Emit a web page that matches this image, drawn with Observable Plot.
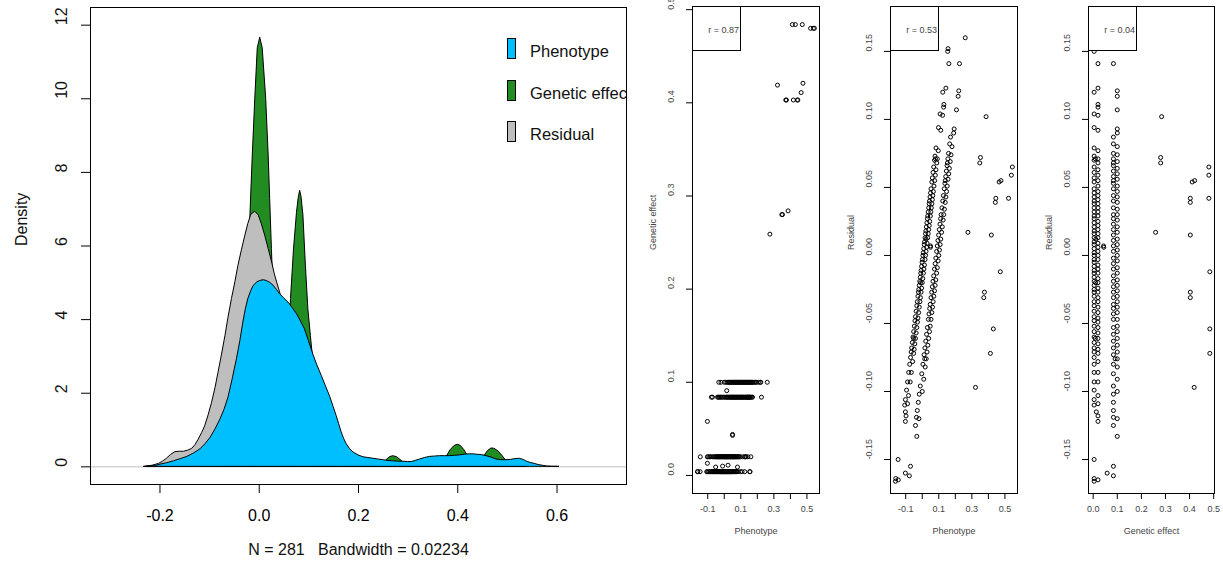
<!DOCTYPE html>
<html>
<head>
<meta charset="utf-8">
<script src="https://cdn.jsdelivr.net/npm/d3@7"></script>
<script src="https://cdn.jsdelivr.net/npm/@observablehq/plot@0.6"></script>
<style>
  body { margin: 0; background: #fff; }
  #wrap { position: relative; width: 1223px; height: 569px; overflow: hidden; background: #fff;
          font-family: "Liberation Sans", Arial, sans-serif; }
  #wrap svg { position: absolute; top: 0; }
  .legend { position: absolute; left: 500px; top: 30px; width: 126px; height: 125px; overflow: hidden;
            font-size: 16.5px; color: #111; z-index: 2; }
  .legend .sw { position: absolute; left: 7px; width: 9px; height: 21px; box-sizing: border-box; border: 1px solid #000; }
  .legend .lb { position: absolute; left: 30px; line-height: 16px; white-space: nowrap; }
  .rbox { position: absolute; top: 6px; width: 49px; height: 45px; box-sizing: border-box; border: 1px solid #000;
          background: #fff; font-size: 9px; color: #444; text-align: right; padding: 18px 1px 0 0; line-height: 11px; z-index: 2; }
</style>
</head>
<body>
<div id="wrap"></div>
<script>
// ---------- density curves (left panel) ----------
const phenotypeX = [-0.227,-0.21,-0.199,-0.185,-0.172,-0.158,-0.145,-0.132,-0.119,-0.108,-0.098,-0.088,-0.078,-0.07,-0.062,-0.054,-0.045,-0.038,-0.032,-0.027,-0.022,-0.016,-0.011,-0.004,0.002,0.009,0.015,0.022,0.029,0.036,0.042,0.05,0.059,0.067,0.076,0.084,0.092,0.1,0.109,0.117,0.126,0.134,0.143,0.15,0.156,0.161,0.166,0.171,0.176,0.183,0.19,0.2,0.21,0.22,0.23,0.24,0.25,0.26,0.27,0.28,0.29,0.3,0.307,0.315,0.324,0.334,0.344,0.354,0.364,0.374,0.384,0.394,0.404,0.414,0.424,0.432,0.438,0.448,0.458,0.468,0.478,0.488,0.498,0.508,0.516,0.525,0.532,0.538,0.546,0.555,0.563,0.571,0.58,0.59,0.605];
const phenotypeDensity = [0,0.02,0.06,0.1,0.15,0.21,0.27,0.36,0.47,0.62,0.79,1.02,1.29,1.55,1.88,2.35,2.92,3.42,3.92,4.28,4.56,4.78,4.92,5.01,5.05,5.07,5.05,5.0,4.92,4.8,4.69,4.58,4.46,4.32,4.15,3.95,3.74,3.42,3.05,2.76,2.47,2.2,1.9,1.62,1.38,1.16,0.94,0.76,0.62,0.48,0.39,0.31,0.26,0.24,0.22,0.2,0.18,0.16,0.15,0.14,0.14,0.13,0.13,0.16,0.2,0.24,0.27,0.28,0.29,0.29,0.29,0.30,0.31,0.33,0.34,0.34,0.33,0.32,0.29,0.25,0.2,0.18,0.18,0.19,0.21,0.22,0.19,0.15,0.11,0.08,0.05,0.03,0.01,0.003,0];

const residualX = [-0.232,-0.215,-0.202,-0.194,-0.186,-0.178,-0.169,-0.16,-0.152,-0.143,-0.135,-0.128,-0.122,-0.115,-0.109,-0.102,-0.095,-0.088,-0.082,-0.075,-0.068,-0.062,-0.055,-0.048,-0.042,-0.035,-0.028,-0.022,-0.016,-0.008,-0.001,0.005,0.012,0.019,0.026,0.031,0.036,0.042,0.05,0.06,0.07,0.08,0.09,0.1,0.11,0.12,0.13,0.14,0.15,0.16,0.17,0.18,0.19,0.2,0.215,0.235];
const residualDensity = [0,0.03,0.08,0.14,0.22,0.32,0.40,0.41,0.41,0.44,0.49,0.6,0.74,0.92,1.1,1.4,1.74,2.15,2.56,3.05,3.56,4.05,4.56,5.02,5.46,5.88,6.28,6.6,6.85,6.93,6.83,6.6,6.28,5.92,5.55,5.25,5.01,4.74,4.35,3.9,3.4,2.9,2.4,1.95,1.55,1.2,0.9,0.65,0.45,0.3,0.2,0.12,0.07,0.04,0.01,0];

const geneticX = [-0.07,-0.05,-0.035,-0.027,-0.021,-0.017,-0.013,-0.008,-0.003,0.002,0.007,0.014,0.019,0.022,0.0255,0.029,0.035,0.042,0.05,0.057,0.061,0.064,0.07,0.076,0.0795,0.0824,0.085,0.089,0.094,0.099,0.104,0.108,0.113,0.12,0.13,0.145,0.17,0.23,0.245,0.255,0.263,0.27,0.278,0.287,0.296,0.31,0.35,0.36,0.37,0.378,0.386,0.394,0.40,0.406,0.413,0.42,0.428,0.436,0.445,0.453,0.461,0.468,0.474,0.482,0.49,0.498,0.507,0.52,0.54];
const geneticDensity = [0,0.3,1.5,3.5,5.6,7.1,8.46,10.0,11.37,11.66,11.37,10.0,8.46,7.28,5.92,4.7,3.3,2.4,2.1,2.6,3.6,4.56,5.9,6.9,7.3,7.5,7.35,6.83,5.46,4.28,3.56,3.01,2.1,1.0,0.3,0.05,0,0,0.03,0.16,0.26,0.29,0.26,0.16,0.06,0.01,0,0.02,0.1,0.28,0.46,0.57,0.60,0.57,0.46,0.3,0.14,0.06,0.12,0.28,0.43,0.5,0.49,0.42,0.3,0.15,0.05,0.01,0];

const densityXTicks = [-0.2, 0, 0.2, 0.4, 0.6];
const densityXLabels = ["-0.2", "0.0", "0.2", "0.4", "0.6"];
const densityYTicks = [0, 2, 4, 6, 8, 10, 12];
const densityYLabels = ["0", "2", "4", "6", "8", "10", "12"];
const legendItems = ["Phenotype", "Genetic effect", "Residual"];
const legendColors = ["#00BFFF", "#228B22", "#BEBEBE"];
const subtitle = "N = 281\u00a0\u00a0\u00a0Bandwidth = 0.02234";

// ---------- individuals: [genetic effect, residual, phenotype] ----------
const rowZero = [[0.004,0.152,0.156],[0.004,0.150,0.154],[0.004,0.120,0.124],[0.004,0.104,0.108],[0.004,0.094,0.098],[0.004,0.079,0.083],[0.004,0.073,0.077],[0.004,0.070,0.074],[0.004,0.065,0.069],[0.004,0.061,0.065],[0.004,0.057,0.061],[0.004,0.054,0.058],[0.004,0.049,0.053],[0.004,0.046,0.050],[0.004,0.043,0.047],[0.004,0.040,0.044],[0.004,0.038,0.042],[0.004,0.035,0.039],[0.004,0.032,0.036],[0.004,0.029,0.033],[0.004,0.027,0.031],[0.004,0.024,0.028],[0.004,0.021,0.025],[0.004,0.018,0.022],[0.004,0.016,0.020],[0.004,0.013,0.017],[0.004,0.010,0.014],[0.004,0.008,0.012],[0.004,0.005,0.009],[0.004,0.002,0.006],[0.004,0.000,0.004],[0.004,-0.003,0.001],[0.004,-0.005,-0.001],[0.004,-0.008,-0.004],[0.004,-0.011,-0.007],[0.004,-0.013,-0.009],[0.004,-0.016,-0.012],[0.004,-0.019,-0.015],[0.004,-0.022,-0.018],[0.004,-0.025,-0.021],[0.004,-0.027,-0.023],[0.004,-0.030,-0.026],[0.004,-0.034,-0.030],[0.004,-0.037,-0.033],[0.004,-0.041,-0.037],[0.004,-0.045,-0.041],[0.004,-0.048,-0.044],[0.004,-0.052,-0.048],[0.004,-0.056,-0.052],[0.004,-0.060,-0.056],[0.004,-0.064,-0.060],[0.004,-0.068,-0.064],[0.004,-0.071,-0.067],[0.004,-0.075,-0.071],[0.004,-0.080,-0.076],[0.004,-0.086,-0.082],[0.004,-0.093,-0.089],[0.004,-0.099,-0.095],[0.004,-0.106,-0.102],[0.004,-0.110,-0.106],[0.004,-0.150,-0.146],[0.004,-0.164,-0.160],[0.004,-0.166,-0.162],[0.013,-0.115,-0.102],[0.009,-0.061,-0.052],[0.009,0.071,0.080],[0.010,-0.020,-0.010],[0.011,0.012,0.023]];
const rowTwo = [[0.020,0.141,0.161],[0.020,0.123,0.143],[0.020,0.111,0.131],[0.020,0.109,0.129],[0.020,0.103,0.123],[0.020,0.092,0.112],[0.020,0.077,0.097],[0.020,0.071,0.091],[0.020,0.068,0.088],[0.020,0.063,0.083],[0.020,0.059,0.079],[0.020,0.055,0.075],[0.020,0.051,0.071],[0.020,0.047,0.067],[0.020,0.044,0.064],[0.020,0.041,0.061],[0.020,0.038,0.058],[0.020,0.035,0.055],[0.020,0.032,0.052],[0.020,0.029,0.049],[0.020,0.025,0.045],[0.020,0.022,0.042],[0.020,0.019,0.039],[0.020,0.016,0.036],[0.020,0.013,0.033],[0.020,0.009,0.029],[0.020,0.006,0.026],[0.020,0.003,0.023],[0.020,0.000,0.020],[0.020,-0.003,0.017],[0.020,-0.007,0.013],[0.020,-0.010,0.010],[0.020,-0.013,0.007],[0.020,-0.017,0.003],[0.020,-0.020,0.000],[0.020,-0.024,-0.004],[0.020,-0.027,-0.007],[0.020,-0.031,-0.011],[0.020,-0.034,-0.014],[0.020,-0.038,-0.018],[0.020,-0.042,-0.022],[0.020,-0.046,-0.026],[0.020,-0.049,-0.029],[0.020,-0.053,-0.033],[0.020,-0.057,-0.037],[0.020,-0.061,-0.041],[0.020,-0.065,-0.045],[0.020,-0.069,-0.049],[0.020,-0.072,-0.052],[0.020,-0.078,-0.058],[0.020,-0.086,-0.066],[0.020,-0.093,-0.073],[0.020,-0.103,-0.083],[0.020,-0.109,-0.089],[0.020,-0.118,-0.098],[0.020,-0.122,-0.102],[0.020,-0.165,-0.145]];
const rowEight = [[0.084,0.141,0.225],[0.084,0.087,0.171],[0.084,0.082,0.166],[0.084,0.075,0.159],[0.084,0.071,0.155],[0.084,0.068,0.152],[0.084,0.066,0.150],[0.084,0.062,0.146],[0.084,0.058,0.142],[0.084,0.055,0.139],[0.084,0.053,0.137],[0.084,0.049,0.133],[0.084,0.044,0.128],[0.084,0.040,0.124],[0.084,0.035,0.119],[0.084,0.030,0.114],[0.084,0.027,0.111],[0.084,0.023,0.107],[0.084,0.019,0.103],[0.084,0.015,0.099],[0.084,0.011,0.095],[0.084,0.007,0.091],[0.084,0.003,0.087],[0.084,-0.002,0.082],[0.084,-0.006,0.078],[0.084,-0.010,0.074],[0.084,-0.015,0.069],[0.084,-0.019,0.065],[0.084,-0.023,0.061],[0.084,-0.027,0.057],[0.084,-0.031,0.053],[0.084,-0.036,0.048],[0.084,-0.039,0.045],[0.084,-0.043,0.041],[0.084,-0.047,0.037],[0.084,-0.053,0.031],[0.084,-0.058,0.026],[0.084,-0.063,0.021],[0.084,-0.068,0.016],[0.084,-0.073,0.011],[0.084,-0.080,0.004],[0.084,-0.087,-0.003],[0.084,-0.096,-0.012],[0.084,-0.102,-0.018],[0.084,-0.108,-0.024],[0.084,-0.114,-0.030],[0.084,-0.119,-0.035],[0.084,-0.125,-0.041],[0.084,-0.155,-0.071],[0.084,-0.162,-0.078]];
const rowTen = [[0.100,0.160,0.260],[0.100,0.121,0.221],[0.100,0.117,0.217],[0.100,0.107,0.207],[0.100,0.093,0.193],[0.100,0.090,0.190],[0.100,0.080,0.180],[0.100,0.074,0.174],[0.100,0.069,0.169],[0.100,0.064,0.164],[0.100,0.060,0.160],[0.100,0.056,0.156],[0.100,0.051,0.151],[0.100,0.047,0.147],[0.100,0.043,0.143],[0.100,0.039,0.139],[0.100,0.034,0.134],[0.100,0.030,0.130],[0.100,0.026,0.126],[0.100,0.021,0.121],[0.100,0.017,0.117],[0.100,0.012,0.112],[0.100,0.008,0.108],[0.100,0.004,0.104],[0.100,0.000,0.100],[0.100,-0.004,0.096],[0.100,-0.009,0.091],[0.100,-0.013,0.087],[0.100,-0.018,0.082],[0.100,-0.022,0.078],[0.100,-0.026,0.074],[0.100,-0.030,0.070],[0.100,-0.034,0.066],[0.100,-0.038,0.062],[0.100,-0.042,0.058],[0.100,-0.047,0.053],[0.100,-0.052,0.048],[0.100,-0.056,0.044],[0.100,-0.061,0.039],[0.100,-0.066,0.034],[0.100,-0.071,0.029],[0.100,-0.076,0.024],[0.100,-0.082,0.018],[0.100,-0.091,0.009],[0.100,-0.100,0.000],[0.100,-0.120,-0.020],[0.100,-0.133,-0.033]];
const scattered = [[0.259,0.017,0.276],[0.284,0.102,0.386],[0.280,0.072,0.352],[0.280,0.068,0.348],[0.403,0.042,0.445],[0.403,0.039,0.442],[0.403,0.015,0.418],[0.403,-0.027,0.376],[0.403,-0.031,0.372],[0.411,0.054,0.465],[0.421,0.055,0.476],[0.419,-0.097,0.322],[0.480,0.065,0.545],[0.480,0.059,0.539],[0.480,0.042,0.522],[0.484,-0.012,0.472],[0.484,-0.054,0.430],[0.484,-0.072,0.412],[0.058,-0.160,-0.102],[0.043,0.007,0.050],[0.044,0.006,0.050],[0.091,-0.076,0.015]];

const phenotypeTicks = [-0.1, 0, 0.1, 0.2, 0.3, 0.4, 0.5];
const phenotypeTickLabels = ["-0.1", "", "0.1", "", "0.3", "", "0.5"];
const geneticTicks = [0, 0.1, 0.2, 0.3, 0.4, 0.5];
const geneticTickLabels = ["0.0", "0.1", "0.2", "0.3", "0.4", "0.5"];
const residualTicks = [-0.15, -0.10, -0.05, 0, 0.05, 0.10, 0.15];
const residualTickLabels = ["-0.15", "-0.10", "-0.05", "0.00", "0.05", "0.10", "0.15"];
const correlations = ["r = 0.87", "r = 0.53", "r = 0.04"];

const FONT = '"Liberation Sans", Arial, sans-serif';
const wrap = document.getElementById("wrap");
const individuals = [...rowZero, ...rowTwo, ...rowEight, ...rowTen, ...scattered];

// ---------- left panel ----------
const curve = (xs, ys) => xs.map((x, i) => ({x, y: ys[i]}));
const dens = Plot.plot({
  width: 640, height: 569,
  marginLeft: 90, marginRight: 14, marginTop: 7, marginBottom: 85,
  x: {domain: [-0.34, 0.74], ticks: densityXTicks, tickSize: 9, tickPadding: 16, tickFormat: (d) => densityXLabels[densityXTicks.indexOf(d)], label: null},
  y: {domain: [-0.48, 12.48], ticks: densityYTicks, tickSize: 9, tickFormat: () => "", label: null},
  style: {fontFamily: FONT, fontSize: "16px", color: "#000", background: "transparent", overflow: "visible"},
  marks: [
    Plot.ruleY([0], {stroke: "#bebebe"}),
    Plot.areaY(curve(geneticX, geneticDensity), {x: "x", y: "y", fill: legendColors[1], stroke: "black", strokeWidth: 1}),
    Plot.areaY(curve(residualX, residualDensity), {x: "x", y: "y", fill: legendColors[2], stroke: "black", strokeWidth: 1}),
    Plot.areaY(curve(phenotypeX, phenotypeDensity), {x: "x", y: "y", fill: legendColors[0], stroke: "black", strokeWidth: 1}),
    Plot.frame({stroke: "black"}),
    Plot.text(densityYTicks, {y: (d) => d, text: (d, i) => densityYLabels[i], frameAnchor: "left", dx: -29, rotate: -90, fill: "#111"}),
    Plot.text(["Density"], {frameAnchor: "left", dx: -69, rotate: -90, fill: "#111"}),
    Plot.text([subtitle], {frameAnchor: "bottom", dy: 70, fill: "#111"})
  ]
});
dens.style.left = "0px";
wrap.appendChild(dens);

const legend = document.createElement("div");
legend.className = "legend";
legendItems.forEach((name, i) => {
  const sw = document.createElement("div");
  sw.className = "sw";
  sw.style.top = (8 + 41.5 * i) + "px";
  sw.style.background = legendColors[i];
  const lb = document.createElement("div");
  lb.className = "lb";
  lb.style.top = (13 + 41.5 * i) + "px";
  lb.textContent = name;
  legend.appendChild(sw);
  legend.appendChild(lb);
});
wrap.appendChild(legend);

// ---------- scatter panels ----------
function scatterPanel({left, xi, yi, xDomain, yDomain, xTicks, xLabels, yTicks, yLabels, xTitle, yTitle, rText}) {
  const svg = Plot.plot({
    width: 198, height: 569,
    marginLeft: 63, marginRight: left > 1000 ? 9 : 8, marginTop: 6, marginBottom: 76,
    x: {domain: xDomain, ticks: xTicks, tickSize: 6, tickFormat: () => "", label: null},
    y: {domain: yDomain, ticks: yTicks, tickSize: 6, tickFormat: () => "", label: null},
    style: {fontFamily: FONT, fontSize: "9px", color: "#000", background: "transparent", overflow: "visible"},
    marks: [
      Plot.dot(individuals, {x: (d) => d[xi], y: (d) => d[yi], r: 2, stroke: "black", strokeWidth: 1, fill: "none"}),
      Plot.frame({stroke: "black"}),
      Plot.text(xTicks, {x: (d) => d, text: (d, i) => xLabels[i], frameAnchor: "bottom", dy: 18, fill: "#444"}),
      Plot.text(yTicks, {y: (d) => d, text: (d, i) => yLabels[i], frameAnchor: "left", dx: -21, rotate: -90, fill: "#444"}),
      Plot.text([xTitle], {frameAnchor: "bottom", dy: 40, fill: "#444"}),
      Plot.text([yTitle], {frameAnchor: "left", dx: -39, rotate: -90, fill: "#444"})
    ]
  });
  svg.style.left = left + "px";
  wrap.appendChild(svg);
  const box = document.createElement("div");
  box.className = "rbox";
  box.style.left = (left + 63) + "px";
  box.textContent = rText;
  wrap.appendChild(box);
}

const phenoDomain = [-0.192, 0.576];
const geneticDomain = [-0.0194, 0.5034];
const residualDomain = [-0.175, 0.183];

scatterPanel({left: 629, xi: 2, yi: 0, xDomain: phenoDomain, yDomain: geneticDomain,
  xTicks: phenotypeTicks, xLabels: phenotypeTickLabels, yTicks: geneticTicks, yLabels: geneticTickLabels,
  xTitle: "Phenotype", yTitle: "Genetic effect", rText: correlations[0]});
scatterPanel({left: 827, xi: 2, yi: 1, xDomain: phenoDomain, yDomain: residualDomain,
  xTicks: phenotypeTicks, xLabels: phenotypeTickLabels, yTicks: residualTicks, yLabels: residualTickLabels,
  xTitle: "Phenotype", yTitle: "Residual", rText: correlations[1]});
scatterPanel({left: 1025, xi: 0, yi: 1, xDomain: geneticDomain, yDomain: residualDomain,
  xTicks: geneticTicks, xLabels: geneticTickLabels, yTicks: residualTicks, yLabels: residualTickLabels,
  xTitle: "Genetic effect", yTitle: "Residual", rText: correlations[2]});
</script>
</body>
</html>
